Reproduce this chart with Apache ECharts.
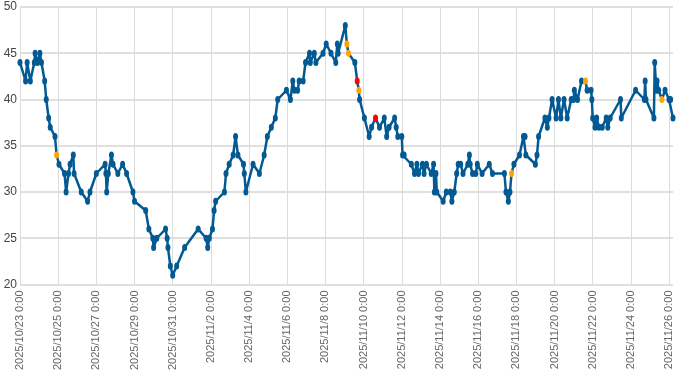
<!DOCTYPE html>
<html>
<head>
<meta charset="utf-8">
<script src="https://cdn.jsdelivr.net/npm/echarts@6/dist/echarts.min.js"></script>
<style>
html,body{margin:0;padding:0;background:#fff;}
#chart{width:700px;height:373px;}
</style>
</head>
<body>
<div id="chart"></div>
<script>
// Timestamps of each reading
const times = [
'2025-10-23 00:00','2025-10-23 07:00','2025-10-23 09:00','2025-10-23 13:00','2025-10-23 18:00','2025-10-23 19:00','2025-10-23 22:00',
'2025-10-24 01:00','2025-10-24 03:00','2025-10-24 07:00','2025-10-24 09:00','2025-10-24 12:00','2025-10-24 14:00','2025-10-24 20:00','2025-10-24 22:00',
'2025-10-25 01:00','2025-10-25 08:00','2025-10-25 10:00','2025-10-25 13:00','2025-10-25 15:00','2025-10-25 19:00','2025-10-25 20:00',
'2025-10-26 05:00','2025-10-26 13:00','2025-10-26 16:00',
'2025-10-27 00:00','2025-10-27 11:00','2025-10-27 12:00','2025-10-27 13:00','2025-10-27 15:00','2025-10-27 19:00','2025-10-27 21:00',
'2025-10-28 03:00','2025-10-28 09:00','2025-10-28 14:00','2025-10-28 22:00',
'2025-10-29 00:00','2025-10-29 14:00','2025-10-29 18:00','2025-10-29 23:00',
'2025-10-30 00:00','2025-10-30 04:00','2025-10-30 15:00','2025-10-30 17:00','2025-10-30 18:00','2025-10-30 21:00',
'2025-10-31 00:00','2025-10-31 05:00','2025-10-31 15:00',
'2025-11-01 08:00','2025-11-01 18:00','2025-11-01 20:00','2025-11-01 22:00',
'2025-11-02 02:00','2025-11-02 04:00','2025-11-02 06:00','2025-11-02 17:00','2025-11-02 19:00','2025-11-02 23:00',
'2025-11-03 04:00','2025-11-03 07:00','2025-11-03 10:00','2025-11-03 17:00','2025-11-03 18:00','2025-11-03 20:00',
'2025-11-04 05:00','2025-11-04 13:00','2025-11-04 19:00','2025-11-04 23:00',
'2025-11-05 04:00','2025-11-05 09:00','2025-11-05 12:00','2025-11-05 23:00',
'2025-11-06 04:00','2025-11-06 07:00','2025-11-06 09:00','2025-11-06 13:00','2025-11-06 15:00','2025-11-06 20:00','2025-11-06 23:00',
'2025-11-07 04:00','2025-11-07 05:00','2025-11-07 10:00','2025-11-07 12:00','2025-11-07 21:00',
'2025-11-08 01:00','2025-11-08 07:00','2025-11-08 13:00','2025-11-08 15:00','2025-11-08 16:00',
'2025-11-09 01:00','2025-11-09 03:00','2025-11-09 05:00','2025-11-09 13:00','2025-11-09 16:00','2025-11-09 18:00','2025-11-09 19:00',
'2025-11-10 01:00','2025-11-10 07:00','2025-11-10 10:00','2025-11-10 15:00','2025-11-10 20:00',
'2025-11-11 02:00','2025-11-11 05:00','2025-11-11 08:00','2025-11-11 15:00','2025-11-11 17:00','2025-11-11 19:00',
'2025-11-12 00:00','2025-11-12 01:00','2025-11-12 03:00','2025-11-12 12:00','2025-11-12 16:00','2025-11-12 19:00','2025-11-12 21:00',
'2025-11-13 02:00','2025-11-13 04:00','2025-11-13 07:00','2025-11-13 13:00','2025-11-13 16:00','2025-11-13 17:00','2025-11-13 19:00','2025-11-13 20:00',
'2025-11-14 04:00','2025-11-14 08:00','2025-11-14 13:00','2025-11-14 15:00','2025-11-14 18:00','2025-11-14 21:00','2025-11-14 23:00',
'2025-11-15 02:00','2025-11-15 05:00','2025-11-15 11:00','2025-11-15 13:00','2025-11-15 14:00','2025-11-15 17:00','2025-11-15 21:00','2025-11-15 23:00',
'2025-11-16 05:00','2025-11-16 14:00','2025-11-16 18:00',
'2025-11-17 09:00','2025-11-17 11:00','2025-11-17 14:00','2025-11-17 16:00','2025-11-17 18:00','2025-11-17 21:00',
'2025-11-18 04:00','2025-11-18 09:00','2025-11-18 11:00','2025-11-18 12:00',
'2025-11-19 00:00','2025-11-19 02:00','2025-11-19 04:00','2025-11-19 12:00','2025-11-19 15:00','2025-11-19 17:00','2025-11-19 21:00',
'2025-11-20 02:00','2025-11-20 05:00','2025-11-20 08:00','2025-11-20 12:00','2025-11-20 16:00','2025-11-20 21:00',
'2025-11-21 00:00','2025-11-21 01:00','2025-11-21 05:00','2025-11-21 10:00','2025-11-21 15:00','2025-11-21 17:00','2025-11-21 22:00','2025-11-21 23:00',
'2025-11-22 00:00','2025-11-22 03:00','2025-11-22 05:00','2025-11-22 08:00','2025-11-22 12:00','2025-11-22 17:00','2025-11-22 19:00','2025-11-22 22:00',
'2025-11-23 11:00','2025-11-23 12:00',
'2025-11-24 06:00','2025-11-24 17:00','2025-11-24 18:00','2025-11-24 19:00',
'2025-11-25 05:00','2025-11-25 06:00','2025-11-25 08:00','2025-11-25 09:00','2025-11-25 11:00','2025-11-25 15:00','2025-11-25 19:00',
'2025-11-26 00:00','2025-11-26 02:00','2025-11-26 05:00'
];
// Reading values
const values = [
44,42,44,42,44,45,44,
45,44,42,40,38,37,36,34,
33,32,30,32,33,34,32,
30,29,30,
32,33,32,30,32,34,33,
32,33,32,30,
29,28,26,25,
24,25,26,25,24,22,
21,22,24,
26,25,24,25,
26,28,29,30,32,33,
34,36,34,33,32,30,
33,32,34,36,
37,38,40,41,
40,42,41,41,42,42,44,
45,44,45,44,45,
46,45,44,46,45,
48,46,45,44,42,41,40,
38,36,37,38,37,
38,36,37,38,37,36,
36,34,34,33,32,33,32,
33,32,33,32,33,30,32,30,
29,30,30,29,30,32,33,
33,32,33,34,33,32,32,33,
32,33,32,
32,30,29,30,32,33,
34,36,36,34,
33,34,36,38,37,38,40,
38,40,38,40,38,40,
40,41,40,42,42,41,41,40,
38,37,38,37,37,38,37,38,
40,38,
41,40,42,40,
38,44,41,42,41,40,41,
40,40,38
];
// Readings flagged as warnings / alarms
const warningTimes = ['2025-10-24 22:00','2025-11-09 03:00','2025-11-09 05:00','2025-11-09 18:00','2025-11-17 18:00','2025-11-21 15:00','2025-11-25 15:00'];
const alarmTimes = ['2025-11-09 16:00','2025-11-10 15:00'];
// Axis settings
const yTicks = [20, 25, 30, 35, 40, 45, 50];
const xStart = '2025-10-23 00:00';
const xTickDays = 2;

function toMs(s) {
  const [d, t] = s.split(' ');
  const [Y, M, D] = d.split('-').map(Number);
  const [h, m] = t.split(':').map(Number);
  return Date.UTC(Y, M - 1, D, h, m);
}
function fmt(ms) {
  const dt = new Date(ms);
  const mm = String(dt.getUTCMinutes()).padStart(2, '0');
  return dt.getUTCFullYear() + '/' + (dt.getUTCMonth() + 1) + '/' + dt.getUTCDate() + ' ' + dt.getUTCHours() + ':' + mm;
}

const warnSet = new Set(warningTimes);
const alarmSet = new Set(alarmTimes);
const lineColor = '#035a93';
const data = times.map((t, i) => {
  const item = { value: [toMs(t), values[i]] };
  if (alarmSet.has(t)) item.itemStyle = { color: '#ff0000' };
  else if (warnSet.has(t)) item.itemStyle = { color: '#ffa500' };
  return item;
});

const chart = echarts.init(document.getElementById('chart'), null, { renderer: 'canvas' });
chart.setOption({
  animation: false,
  grid: { left: 20, right: 27, top: 7, bottom: 88, containLabel: false },
  xAxis: {
    type: 'value',
    min: toMs(xStart),
    max: toMs(times[times.length - 1]),
    interval: xTickDays * 86400000,
    axisLine: { show: false },
    axisTick: { show: false },
    splitLine: { show: true, showMaxLine: false, lineStyle: { color: '#dcdcdc', width: 1 } },
    axisLabel: {
      rotate: 90,
      fontSize: 11,
      color: '#666',
      margin: 6,
      showMaxLabel: false,
      formatter: v => fmt(v)
    }
  },
  yAxis: {
    type: 'value',
    min: yTicks[0],
    max: yTicks[yTicks.length - 1],
    interval: yTicks[1] - yTicks[0],
    axisLine: { show: false },
    axisTick: { show: false },
    splitLine: { show: true, lineStyle: { color: '#d6d6d6', width: 1.5 } },
    axisLabel: { fontSize: 12, color: '#444', margin: 3 }
  },
  series: [{
    type: 'line',
    data: data,
    symbol: 'circle',
    symbolSize: [5, 7],
    lineStyle: { color: lineColor, width: 2.5 },
    itemStyle: { color: lineColor }
  }]
});
</script>
</body>
</html>
